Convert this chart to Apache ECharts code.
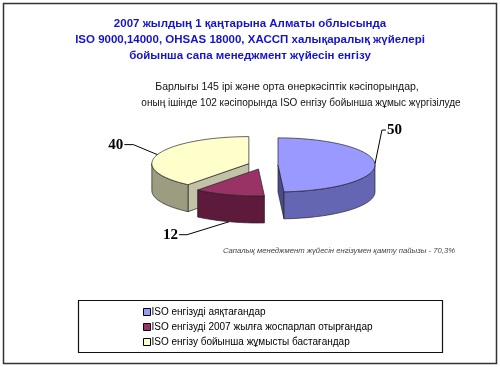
<!DOCTYPE html>
<html><head><meta charset="utf-8">
<script src="https://cdn.jsdelivr.net/npm/echarts@6/dist/echarts.min.js"></script>
<style>html,body{margin:0;padding:0;background:#fff}#c{width:500px;height:367px}</style>
</head><body><div id="c"></div>
<script>
const titleLines = ['2007 жылдың 1 қаңтарына Алматы облысында', 'ISO 9000,14000, OHSAS 18000, ХАССП халықаралық жүйелері', 'бойынша сапа менеджмент жүйесін енгізу'];
const subtitleLines = ['Барлығы 145 ірі және орта өнеркәсіптік кәсіпорындар,', 'оның ішінде 102 кәсіпорында ISO енгізу бойынша жұмыс жүргізілуде'];
const footnote = 'Сапалық менеджмент жүйесін енгізумен қамту пайызы - 70,3%';
const categories = ['ISO енгізуді аяқтағандар', 'ISO енгізуді 2007 жылға жоспарлап отырғандар', 'ISO енгізу бойынша жұмысты бастағандар'];
const values = [50, 12, 40];

// styling / layout
const topColors = ['#9999ff', '#993366', '#ffffcc'];
const wallColors = ['#6466b4', '#5e1a3a', '#9c9c80'];
const faceColors = ['#4a4c90', '#4a1430', '#c2c2a8'];
const labelOffsets = [[7, -34], [-42, 13], [-24, -10]];
const tickLengths = [4, 8, 9];
const G = {cx: 263, cy: 165, rx: 97, ry: 27, depth: 27, explode: 15};

const total = values.reduce((a, b) => a + b, 0);

function renderSlice(params, api) {
  const i = params.seriesIndex;
  let s = 0; for (let k = 0; k < i; k++) s += values[k];
  const a0 = s / total * Math.PI * 2;
  const a1 = (s + values[i]) / total * Math.PI * 2;
  const mid = (a0 + a1) / 2;
  const c = [G.cx + G.explode * Math.sin(mid), G.cy - G.explode * Math.cos(mid) * G.ry / G.rx];
  const pt = (t, dz) => [c[0] + G.rx * Math.sin(t), c[1] - G.ry * Math.cos(t) + (dz || 0)];
  const arc = (b0, b1, dz) => { const n = Math.max(2, Math.ceil((b1 - b0) / 0.03)); const r = []; for (let j = 0; j <= n; j++) r.push(pt(b0 + (b1 - b0) * j / n, dz)); return r; };
  const stroke = {stroke: '#222', lineWidth: 0.7, lineJoin: 'round'};
  const children = [];
  const faces = [];
  if (Math.sin(a0) < -1e-6) faces.push(a0);
  if (Math.sin(a1) > 1e-6) faces.push(a1);
  faces.forEach(t => {
    const p = pt(t);
    children.push({type: 'polygon', z2: 1, shape: {points: [c, p, [p[0], p[1] + G.depth], [c[0], c[1] + G.depth]]}, style: Object.assign({fill: faceColors[i]}, stroke)});
  });
  const w0 = Math.max(a0, Math.PI / 2), w1 = Math.min(a1, Math.PI * 1.5);
  if (w1 > w0) {
    const top = arc(w0, w1, 0), bot = arc(w0, w1, G.depth).reverse();
    children.push({type: 'polygon', z2: 2, shape: {points: top.concat(bot)}, style: Object.assign({fill: wallColors[i]}, stroke)});
  }
  children.push({type: 'polygon', z2: 10, shape: {points: [c].concat(arc(a0, a1, 0))}, style: Object.assign({fill: topColors[i]}, stroke)});
  const anc = pt(mid, Math.cos(mid) < 0 ? G.depth : 0);
  const off = labelOffsets[i];
  const p1 = [anc[0] + off[0], anc[1] + off[1]];
  const dir = off[0] >= 0 ? 1 : -1;
  const p2 = [p1[0] + dir * tickLengths[i], p1[1]];
  children.push({type: 'polyline', z2: 20, shape: {points: [anc, p1, p2]}, style: {stroke: '#000', lineWidth: 1, fill: null}});
  children.push({type: 'text', z2: 20, x: p2[0] + dir * 1, y: p2[1], style: {text: String(values[i]), fill: '#000', font: 'bold 15px "Liberation Serif", serif', align: dir > 0 ? 'left' : 'right', verticalAlign: 'middle'}});
  return {type: 'group', children};
}

const chart = echarts.init(document.getElementById('c'));
chart.setOption({
  backgroundColor: '#fff',
  animation: false,
  title: [{
    text: titleLines.join('\n'), left: 'center', top: 11,
    textStyle: {fontFamily: '"Liberation Sans", Arial, sans-serif', fontSize: 11.5, fontWeight: 'bold', color: '#1414cc', lineHeight: 16}
  }],
  legend: {
    orient: 'vertical', left: 143, top: 306, padding: 0, itemWidth: 7, itemHeight: 7, itemGap: 3,
    icon: 'rect', data: categories,
    itemStyle: {borderColor: '#000', borderWidth: 1},
    textStyle: {fontFamily: '"Liberation Sans", Arial, sans-serif', fontSize: 10, color: '#000', lineHeight: 12, padding: [0, 0, 0, -4]}
  },
  series: categories.map((name, i) => ({
    type: 'custom', name, coordinateSystem: 'none', renderItem: renderSlice,
    itemStyle: {color: topColors[i]}, data: [[values[i]]], silent: true
  })),
  graphic: [
    {type: 'rect', z: -1, shape: {x: 3.5, y: 3.5, width: 493, height: 360}, style: {fill: null, stroke: '#333', lineWidth: 1.5}},
    {type: 'rect', z: -1, shape: {x: 78.5, y: 300.5, width: 364, height: 52}, style: {fill: null, stroke: '#111', lineWidth: 1.2}},
    {type: 'text', x: 287, y: 87, style: {text: subtitleLines[0], font: '10.5px "Liberation Sans", Arial, sans-serif', fill: '#111', align: 'center', verticalAlign: 'middle'}},
    {type: 'text', x: 301, y: 103, style: {text: subtitleLines[1], font: '10px "Liberation Sans", Arial, sans-serif', fill: '#111', align: 'center', verticalAlign: 'middle'}},
    {type: 'text', x: 455, y: 251, style: {text: footnote, font: 'italic 7.7px "Liberation Sans", Arial, sans-serif', fill: '#444', align: 'right', verticalAlign: 'middle'}}
  ]
});
</script></body></html>
